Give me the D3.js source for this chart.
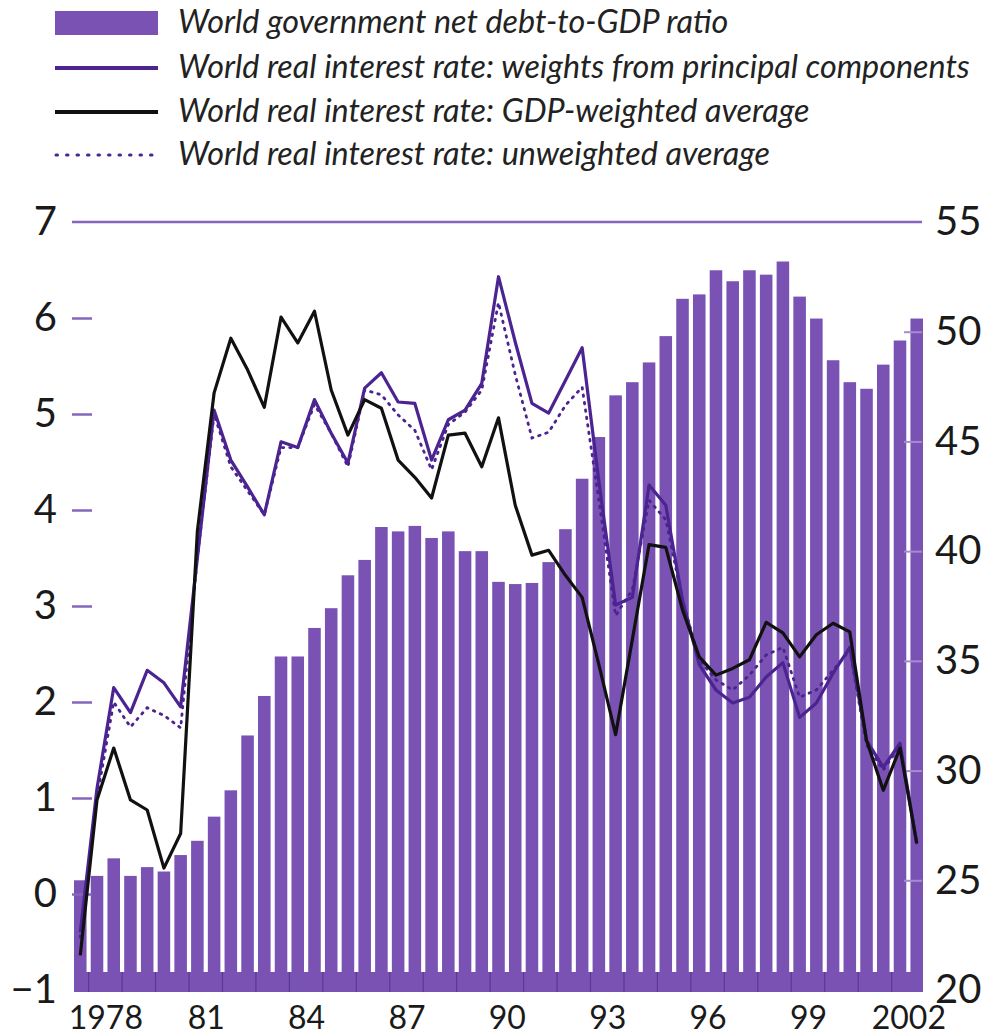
<!DOCTYPE html>
<html>
<head>
<meta charset="utf-8">
<script src="https://cdn.jsdelivr.net/npm/d3@7"></script>
<style>
  html, body { margin: 0; padding: 0; background: #ffffff; }
  svg { display: block; }
  text { font-family: "Lato", "DejaVu Sans", sans-serif; }
</style>
</head>
<body>
<svg id="chart" width="990" height="1036"></svg>
<script>
// ---------- data ----------
const periods = [
  "1977H2",
  "1978H1","1978H2","1979H1","1979H2","1980H1","1980H2","1981H1","1981H2",
  "1982H1","1982H2","1983H1","1983H2","1984H1","1984H2","1985H1","1985H2",
  "1986H1","1986H2","1987H1","1987H2","1988H1","1988H2","1989H1","1989H2",
  "1990H1","1990H2","1991H1","1991H2","1992H1","1992H2","1993H1","1993H2",
  "1994H1","1994H2","1995H1","1995H2","1996H1","1996H2","1997H1","1997H2",
  "1998H1","1998H2","1999H1","1999H2","2000H1","2000H2","2001H1","2001H2",
  "2002H1","2002H2"
];
// World government net debt-to-GDP ratio (right axis, %)
const debtRatio = [
  25.0,
  25.2, 26.0, 25.2, 25.6, 25.4, 26.15, 26.8, 27.9,
  29.1, 31.6, 33.4, 35.2, 35.2, 36.5, 37.4, 38.9,
  39.6, 41.1, 40.9, 41.15, 40.6, 40.9, 40.0, 40.0,
  38.6, 38.5, 38.55, 39.5, 41.0, 43.3, 45.2, 47.1,
  47.7, 48.6, 49.8, 51.5, 51.7, 52.8, 52.3, 52.8,
  52.6, 53.2, 51.6, 50.6, 48.7, 47.7, 47.4, 48.5,
  49.6, 50.6
];
// World real interest rate: weights from principal components (left axis, %)
const ratePrincipal = [
  -0.4,
  1.1, 2.15, 1.89, 2.33, 2.2, 1.95, 3.5, 5.04,
  4.52, 4.24, 3.95, 4.71, 4.65, 5.15, 4.80, 4.49,
  5.27, 5.43, 5.125, 5.11, 4.52, 4.94, 5.04, 5.32,
  6.43, 5.75, 5.11, 5.01, 5.35, 5.69, 4.3, 3.01,
  3.09, 4.26, 4.05, 3.06, 2.39, 2.125, 1.99, 2.05,
  2.26, 2.41, 1.84, 1.99, 2.30, 2.57, 1.6, 1.32,
  1.57, 0.53
];
// World real interest rate: GDP-weighted average
const rateGDP = [
  -0.64,
  0.98, 1.52, 0.98, 0.875, 0.27, 0.63, 3.78, 5.22,
  5.79, 5.46, 5.07, 6.01, 5.74, 6.07, 5.25, 4.78,
  5.15, 5.06, 4.52, 4.34, 4.125, 4.78, 4.80, 4.45,
  4.96, 4.05, 3.53, 3.58, 3.32, 3.09, 2.39, 1.66,
  2.65, 3.64, 3.61, 2.96, 2.47, 2.28, 2.35, 2.44,
  2.83, 2.72, 2.47, 2.70, 2.82, 2.73, 1.60, 1.08,
  1.52, 0.53
];
// World real interest rate: unweighted average
const rateUnweighted = [
  -0.45,
  1.0, 2.0, 1.74, 1.94, 1.86, 1.73, 3.5, 5.0,
  4.45, 4.2, 3.95, 4.65, 4.65, 5.1, 4.8, 4.45,
  5.25, 5.2, 4.99, 4.83, 4.42, 4.89, 5.02, 5.25,
  6.16, 5.41, 4.75, 4.81, 5.09, 5.28, 4.1, 2.9,
  3.17, 4.1, 3.9, 3.06, 2.44, 2.23, 2.125, 2.28,
  2.49, 2.57, 2.05, 2.125, 2.33, 2.54, 1.55, 1.29,
  1.55, 0.53
];
const leftTicks = [-1, 0, 1, 2, 3, 4, 5, 6, 7];
const rightTicks = [20, 25, 30, 35, 40, 45, 50, 55];
const yearTicks = [1978, 1981, 1984, 1987, 1990, 1993, 1996, 1999, 2002];
const yearTickLabels = ["1978", "81", "84", "87", "90", "93", "96", "99", "2002"];
const allYears = [1978,1979,1980,1981,1982,1983,1984,1985,1986,1987,1988,1989,1990,
  1991,1992,1993,1994,1995,1996,1997,1998,1999,2000,2001,2002];

const legendItems = [
  {label: "World government net debt-to-GDP ratio", kind: "bar"},
  {label: "World real interest rate: weights from principal components", kind: "purple"},
  {label: "World real interest rate: GDP-weighted average", kind: "black"},
  {label: "World real interest rate: unweighted average", kind: "dotted"}
];

// ---------- styles ----------
const barColor = "#7a52b3";
const purpleLine = "#4b2491";
const axisPurple = "#8466bd";

// ---------- layout ----------
const svg = d3.select("#chart");
const plotTop = 222, plotBottom = 990, plotLeft = 72, plotRight = 922;

const x = d3.scaleBand().domain(periods).range([74, 923]).paddingInner(0.25).paddingOuter(0);
const yL = d3.scaleLinear().domain([-1, 7]).range([plotBottom, plotTop]);
const yR = d3.scaleLinear().domain([20, 55]).range([plotBottom, plotTop]);
const cx = p => x(p) + x.bandwidth() / 2;

// year scale: centre of the two half-year bars of each year
const step = x.step();
const yearCenter = y => x(y + "H1") + (step + x.bandwidth()) / 2;
const yearScale = d3.scaleLinear().domain([1978, 2002]).range([yearCenter(1978), yearCenter(2002)]);

// ---------- bars ----------
svg.append("g").selectAll("rect")
  .data(periods.map((p, i) => ({p, v: debtRatio[i]})))
  .join("rect")
  .attr("x", d => x(d.p))
  .attr("y", d => yR(d.v))
  .attr("width", x.bandwidth())
  .attr("height", d => yR(20) - yR(d.v))
  .attr("fill", barColor);

// bottom band (x-axis strip)
svg.append("rect")
  .attr("x", 74).attr("y", plotBottom - 18)
  .attr("width", 923 - 74).attr("height", 20)
  .attr("fill", barColor);
svg.append("g").selectAll("line")
  .data(allYears)
  .join("line")
  .attr("x1", d => yearScale(d - 0.5)).attr("x2", d => yearScale(d - 0.5))
  .attr("y1", plotBottom - 18).attr("y2", plotBottom + 2)
  .attr("stroke", "#5b3796").attr("stroke-width", 1.2);

// top rule
svg.append("line")
  .attr("x1", plotLeft).attr("x2", plotRight)
  .attr("y1", yL(7)).attr("y2", yL(7))
  .attr("stroke", axisPurple).attr("stroke-width", 2.5);

// left tick marks
const leftTickAxis = d3.axisRight(yL).tickValues([0, 1, 2, 3, 4, 5, 6]).tickSize(20).tickFormat("");
const gLT = svg.append("g").attr("transform", `translate(${plotLeft},0)`).call(leftTickAxis);
gLT.select(".domain").remove();
gLT.selectAll(".tick line").attr("stroke", axisPurple).attr("stroke-width", 2.5);

// right tick marks
const rightTickAxis = d3.axisLeft(yR).tickValues([25, 30, 35, 40, 45, 50]).tickSize(18).tickFormat("");
const gRT = svg.append("g").attr("transform", `translate(${plotRight},0)`).call(rightTickAxis);
gRT.select(".domain").remove();
gRT.selectAll(".tick line").attr("stroke", "#a58bd3").attr("stroke-width", 2);

// ---------- lines ----------
const lineL = d3.line().x((d, i) => cx(periods[i])).y(d => yL(d));

svg.append("path").datum(rateUnweighted)
  .attr("d", lineL).attr("fill", "none")
  .attr("stroke", purpleLine).attr("stroke-width", 2.8)
  .attr("stroke-dasharray", "1.5,6").attr("stroke-linecap", "round");

svg.append("path").datum(ratePrincipal)
  .attr("d", lineL).attr("fill", "none")
  .attr("stroke", purpleLine).attr("stroke-width", 3.2)
  .attr("stroke-linejoin", "round");

svg.append("path").datum(rateGDP)
  .attr("d", lineL).attr("fill", "none")
  .attr("stroke", "#111111").attr("stroke-width", 3.2)
  .attr("stroke-linejoin", "round");

// ---------- axis labels ----------
const leftAxis = d3.axisLeft(yL).tickValues(leftTicks).tickSize(0).tickPadding(0);
const gL = svg.append("g").attr("transform", "translate(57,0)").call(leftAxis);
gL.select(".domain").remove();
gL.selectAll("text").attr("font-family", "Lato, sans-serif").attr("font-size", 40).attr("fill", "#1a1a1a");

const rightAxis = d3.axisRight(yR).tickValues(rightTicks).tickSize(0).tickPadding(0);
const gR = svg.append("g").attr("transform", "translate(935,0)").call(rightAxis);
gR.select(".domain").remove();
gR.selectAll("text").attr("font-family", "Lato, sans-serif").attr("font-size", 40).attr("fill", "#1a1a1a");

const bottomAxis = d3.axisBottom(yearScale).tickValues(yearTicks)
  .tickFormat((d, i) => yearTickLabels[i]).tickSize(0).tickPadding(16);
const gB = svg.append("g").attr("transform", `translate(0,${plotBottom})`).call(bottomAxis);
gB.select(".domain").remove();
gB.selectAll("text").attr("font-family", "Lato, sans-serif").attr("font-size", 32).attr("fill", "#1a1a1a");

// ---------- legend ----------
const legendY = [23, 68, 112, 155];
const lg = svg.append("g");
legendItems.forEach((it, i) => {
  const yy = legendY[i];
  if (it.kind === "bar") {
    lg.append("rect").attr("x", 55).attr("y", yy - 12).attr("width", 103).attr("height", 24).attr("fill", barColor);
  } else if (it.kind === "purple") {
    lg.append("line").attr("x1", 55).attr("x2", 158).attr("y1", yy).attr("y2", yy)
      .attr("stroke", purpleLine).attr("stroke-width", 4);
  } else if (it.kind === "black") {
    lg.append("line").attr("x1", 55).attr("x2", 158).attr("y1", yy).attr("y2", yy)
      .attr("stroke", "#111").attr("stroke-width", 4);
  } else {
    lg.append("line").attr("x1", 56).attr("x2", 158).attr("y1", yy).attr("y2", yy)
      .attr("stroke", purpleLine).attr("stroke-width", 3)
      .attr("stroke-dasharray", "1.5,9").attr("stroke-linecap", "round");
  }
  lg.append("text").attr("x", 178).attr("y", yy + 10)
    .attr("font-family", "Lato, sans-serif").attr("font-style", "italic")
    .attr("font-size", 32.3).attr("fill", "#222").text(it.label);
});
</script>
</body>
</html>
